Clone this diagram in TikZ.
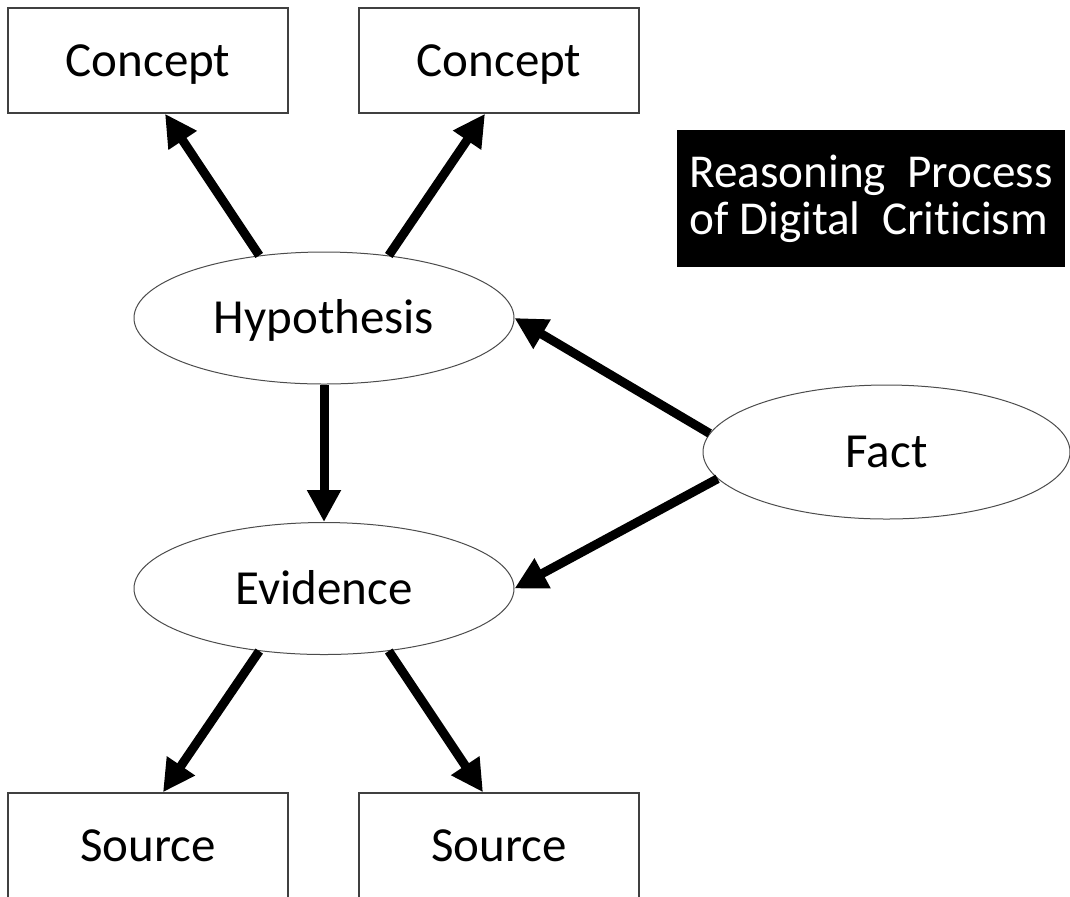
\documentclass[tikz,border=0pt]{standalone}
\usepackage{fontspec}
\setmainfont[Ligatures=NoCommon]{Carlito}
\usetikzlibrary{arrows.meta,shapes.geometric,positioning}

\tikzset{
	label text/.style={text height=15.8pt,text depth=0pt},
	box/.style={label text,draw=black!75,line width=0.75pt,rectangle,fill=white,minimum width=140pt,minimum height=52.5pt},
	oval/.style={label text,draw=black!70,line width=0.5pt,ellipse,fill=white,minimum width=190pt,minimum height=66pt,inner sep=0pt},
	link/.style={line width=4.5pt,-{Triangle[length=16pt,width=16pt]}}
}

\begin{document}
\begin{tikzpicture}[x=0.5pt,y=-0.5pt,font=\fontsize{24.5}{29}\selectfont]
	\useasboundingbox (0,0) rectangle (1070,896);
	
	% Concepts
	\node[box] (conceptA) at (148,60.5) {Concept};
	\node[box] (conceptB) at (499,60.5) {Concept};
	
	% Title
	\node[fill=black,text=white,align=left,minimum width=194pt,minimum height=68.5pt,font=\fontsize{23.6}{23.5}\selectfont] (title) at (871,198.5) {Reasoning\ \ Process\\of Digital\ \ Criticism};
	
	% Hypothesis, Evidence, Fact
	\node[oval] (hyp) at (324,318) {Hypothesis};
	\node[oval] (evid) at (324,588.5) {Evidence};
	\node[oval,minimum width=183.5pt,minimum height=67pt] (fact) at (886.5,452) {Fact};
	
	% Sources
	\node[box] (sourceA) at (148,845.5) {Source};
	\node[box] (sourceB) at (499,845.5) {Source};
	
	% Links
	\draw[link] (hyp.136) -- ([xshift=8.5pt]conceptA.south);
	\draw[link] (hyp.44) -- ([xshift=-7pt]conceptB.south);
	\draw[link] (hyp.south) -- (evid.north);
	\draw[link] (fact.174) -- (hyp.east);
	\draw[link] (fact.189) -- (evid.east);
	\draw[link] (evid.224) -- ([xshift=7.5pt]sourceA.north);
	\draw[link] (evid.316) -- ([xshift=-8pt]sourceB.north);
	
\end{tikzpicture}
\end{document}
